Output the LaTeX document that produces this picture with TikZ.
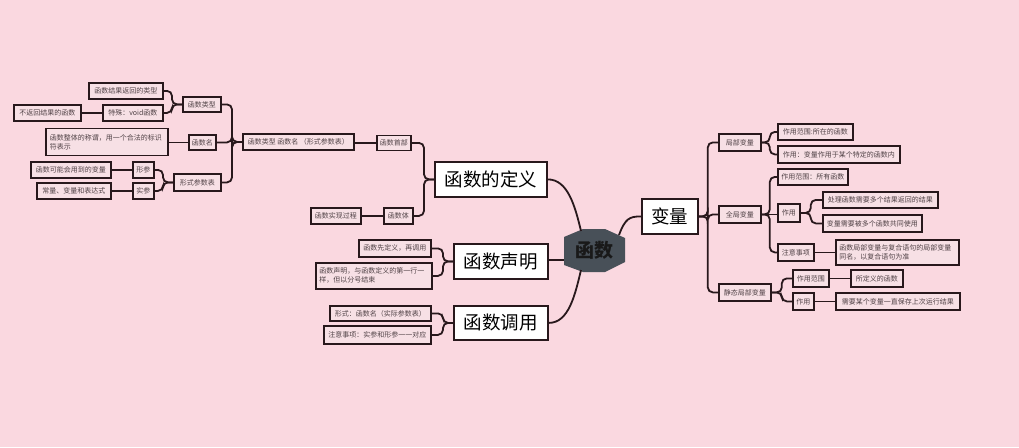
\documentclass[tikz,border=0pt]{standalone}
\usepackage{fontspec}
\setmainfont{Noto Sans CJK SC}
\usetikzlibrary{positioning}
\definecolor{bg}{RGB}{250,216,224}
\definecolor{boxfill}{RGB}{247,224,229}
\definecolor{edge}{RGB}{40,24,28}
\definecolor{stxt}{RGB}{80,66,70}
\definecolor{hexc}{RGB}{72,80,88}
\tikzset{
  sbox/.style={draw=edge, line width=1.8pt, fill=boxfill, text=stxt, font=\fontsize{7}{9}\selectfont, inner sep=0pt, anchor=north west},
  bbox/.style={draw=edge, line width=1.8pt, fill=white, text=black, font=\fontsize{18.5}{20}\selectfont, inner sep=0pt, anchor=north west},
  conn/.style={draw=edge, line width=1.8pt, rounded corners=5pt},
}
% #1 x, #2 y, #3 w, #4 h, #5 name, #6 text
\newcommand\sbx[6]{\node[sbox, minimum width=#3pt, minimum height=#4pt] (#5) at (#1,#2) {#6};}
\newcommand\bbx[6]{\node[bbox, minimum width=#3pt, minimum height=#4pt] (#5) at (#1,#2) {#6};}
\newcommand\brL[2]{\draw[conn] (#1.west) -- ++(-10,0) |- (#2.east);}
\newcommand\brR[3]{\draw[conn] (#1.east) -- ++(#3,0) |- (#2.west);}
\newcommand\brSL[2]{\draw[conn] (#1.west) -- (#2.east |- #1.west);}
\newcommand\brSR[2]{\draw[conn] (#1.east) -- (#2.west |- #1.east);}
\begin{document}
\begin{tikzpicture}[x=1pt,y=-1pt]
\fill[bg] (0,0) rectangle (1019,447);
\useasboundingbox (0,0) rectangle (1019,447);

% root
\fill[hexc] (564,237) -- (583,229) -- (605,229) -- (625,238) -- (625,262) -- (605,272) -- (583,272) -- (564,265) -- cycle;
\node[font=\fontsize{19}{20}\selectfont\bfseries, text=black!90] (root) at (594.5,250.5) {函数};
\coordinate (rtl) at (581,231);
\coordinate (rl) at (564,260);
\coordinate (rbl) at (581,270);
\coordinate (rtr) at (619,235);

% main topics
\bbx{434}{161}{112}{35}{def}{函数的定义}
\bbx{453}{243}{94}{35}{decl}{函数声明}
\bbx{453}{305}{94}{34}{call}{函数调用}
\bbx{641}{198}{56}{35}{var}{变量}

% root connectors
\draw[conn] (def.east) .. controls +(20,0) and +(-6,-25) .. (rtl);
\draw[conn] (decl.east |- rl) -- (rl);
\draw[conn] (call.east) .. controls +(20,0) and +(-6,25) .. (rbl);
\draw[conn] (rtr) .. controls +(6,-16) and +(-12,0) .. (var.west);

% ---- left: definition
\sbx{376}{134.5}{34}{15}{head}{函数首部}
\sbx{242}{133}{111}{16}{headc}{函数类型 函数名 （形式参数表）}
\sbx{383}{207}{29}{16}{body}{函数体}
\sbx{310}{207}{50}{16}{bodyc}{函数实现过程}
\brL{def}{head}
\brL{def}{body}
\brSL{head}{headc}
\brSL{body}{bodyc}

\sbx{182}{96}{38}{15}{ftype}{函数类型}
\sbx{188}{134}{27}{15}{fname}{函数名}
\sbx{173}{173}{47}{17}{fparam}{形式参数表}
\brL{headc}{ftype}
\brL{headc}{fname}
\brL{headc}{fparam}

\sbx{88}{82}{74}{16}{ft1}{函数结果返回的类型}
\sbx{102}{104}{60}{16}{ft2}{特殊：void函数}
\sbx{13}{104}{67}{16}{ft3}{不返回结果的函数}
\brL{ftype}{ft1}
\brL{ftype}{ft2}
\brSL{ft2}{ft3}

\node[sbox, minimum width=122pt, minimum height=27pt, text width=114pt, align=left] (fn1) at (45,127.5) {函数整体的称谓，用一个合法的标识\\符表示};
\brSL{fname}{fn1}

\sbx{132}{161}{21}{16}{xc}{形参}
\sbx{132}{182}{21}{16}{sc}{实参}
\sbx{30}{161}{80}{16}{xc1}{函数可能会用到的变量}
\sbx{36}{182}{74}{16}{sc1}{常量、变量和表达式}
\brL{fparam}{xc}
\brL{fparam}{sc}
\brSL{xc}{xc1}
\brSL{sc}{sc1}

% ---- left: declaration
\sbx{358}{239}{72}{17}{dc1}{函数先定义，再调用}
\node[sbox, minimum width=116pt, minimum height=26pt, text width=109pt, align=left] (dc2) at (315,262) {函数声明，与函数定义的第一行一\\样，但以分号结束};
\brL{decl}{dc1}
\brL{decl}{dc2}

% ---- left: call
\sbx{329}{305}{101}{15}{cl1}{形式：函数名（实际参数表）}
\sbx{323}{325}{107}{18}{cl2}{注意事项：实参和形参一一对应}
\brL{call}{cl1}
\brL{call}{cl2}

% ---- right: variables
\sbx{718}{133}{42}{17}{loc}{局部变量}
\sbx{718}{205}{42}{17}{glb}{全局变量}
\sbx{718}{283}{52}{17}{sta}{静态局部变量}
\brR{var}{loc}{9}
\brR{var}{glb}{9}
\brR{var}{sta}{9}

\sbx{777}{123}{75}{16}{loc1}{作用范围:所在的函数}
\sbx{777}{145}{122}{17}{loc2}{作用：变量作用于某个特定的函数内}
\brR{loc}{loc1}{8}
\brR{loc}{loc2}{8}

\sbx{777}{168}{70}{16}{g1}{作用范围：所有函数}
\sbx{777}{203}{22}{18}{g2}{作用}
\sbx{777}{243}{36}{17}{g3}{注意事项}
\brR{glb}{g1}{8}
\brSR{glb}{g2}
\brR{glb}{g3}{8}

\sbx{822}{191}{115}{16}{g21}{处理函数需要多个结果返回的结果}
\sbx{822}{214}{99}{17}{g22}{变量需要被多个函数共同使用}
\brR{g2}{g21}{10}
\brR{g2}{g22}{10}

\node[sbox, minimum width=123pt, minimum height=25pt, text width=116pt, align=left] (g31) at (835,239) {函数局部变量与复合语句的局部变量\\同名，以复合语句为准};
\brSR{g3}{g31}

\sbx{792}{269}{36}{17}{s1}{作用范围}
\sbx{792}{292}{21}{17}{s2}{作用}
\brR{sta}{s1}{10}
\brR{sta}{s2}{10}
\sbx{850}{269}{52}{17}{s11}{所定义的函数}
\sbx{835}{292}{124}{17}{s21}{需要某个变量一直保存上次运行结果}
\brSR{s1}{s11}
\brSR{s2}{s21}
\end{tikzpicture}
\end{document}
